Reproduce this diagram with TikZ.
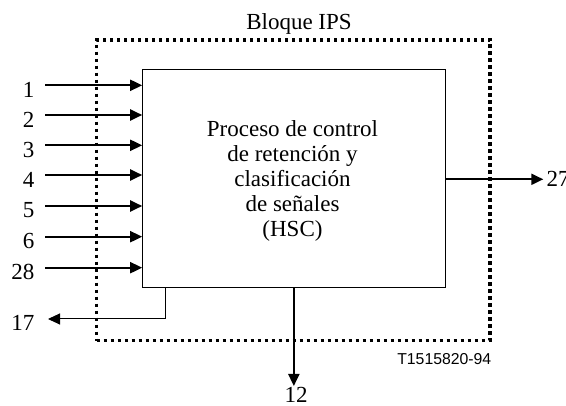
\documentclass[tikz,border=0pt]{standalone}
\usepackage{fontspec}
\setmainfont{Liberation Serif}
\setsansfont{Liberation Sans}
\usetikzlibrary{arrows.meta}
\tikzset{
  sig/.style={line width=2pt,-{Triangle[length=12pt,width=11pt]}},
  thinsig/.style={line width=1pt,-{Triangle[length=12pt,width=11pt]}},
  lbl/.style={font=\fontsize{23}{25}\selectfont,inner sep=0pt},
  ipsbox/.style={draw,line width=3.5pt,dash pattern=on 3.5pt off 3.5pt,inner sep=0pt},
}
\begin{document}
\begin{tikzpicture}[x=1pt,y=-1pt]
\useasboundingbox (0,0) rectangle (566,406);

% IPS block (dotted)
\node[ipsbox,minimum width=393.3,minimum height=300.7] (ips) at (293.35,190.35) {};
\node[lbl,anchor=base] (ipslbl) at (299,30) {Bloque IPS};

% HSC process
\node[draw,line width=1pt,minimum width=302.3,minimum height=218.4] (hsc) at (293.85,178.5) {};
\node[lbl,align=center] (hsctxt) at (292.5,181.2) {Proceso de control\\de retención y\\clasificación\\de señales\\(HSC)};

% Inputs
\coordinate (in1) at (45,85.3);
\coordinate (in2) at (45,115);
\coordinate (in3) at (45,145.3);
\coordinate (in4) at (45,175);
\coordinate (in5) at (45,206);
\coordinate (in6) at (45,236.7);
\coordinate (in28) at (45,267.7);
\node[lbl,anchor=east] (l1) at (34.5,89.8) {1};
\node[lbl,anchor=east] (l2) at (34.5,119.5) {2};
\node[lbl,anchor=east] (l3) at (34.5,149.8) {3};
\node[lbl,anchor=east] (l4) at (34.5,179.5) {4};
\node[lbl,anchor=east] (l5) at (34.5,210.5) {5};
\node[lbl,anchor=east] (l6) at (34.5,241.2) {6};
\node[lbl,anchor=east] (l28) at (34.5,272.2) {28};
\draw[sig] (in1) -- (in1 -| hsc.west);
\draw[sig] (in2) -- (in2 -| hsc.west);
\draw[sig] (in3) -- (in3 -| hsc.west);
\draw[sig] (in4) -- (in4 -| hsc.west);
\draw[sig] (in5) -- (in5 -| hsc.west);
\draw[sig] (in6) -- (in6 -| hsc.west);
\draw[sig] (in28) -- (in28 -| hsc.west);

% Output 17
\coordinate (o17a) at (165.7,287.7);
\coordinate (o17) at (48,319);
\node[lbl,anchor=east] (l17) at (34.5,323.3) {17};
\draw[thinsig] (o17a |- hsc.south) |- (o17);

% Output 12
\coordinate (o12) at (293.85,386);
\node[lbl,anchor=north] (l12) at (296,387.5) {12};
\draw[sig] (hsc.south) -- (o12);

% Output 27
\coordinate (o27) at (543.3,179.3);
\node[lbl,anchor=west] (l27) at (546.5,178.8) {27};
\draw[sig] (o27 -| hsc.east) -- (o27);

% Figure reference
\node[font=\sffamily\fontsize{15.8}{18}\selectfont,inner sep=0pt,anchor=base east] (ref) at (491.5,364.5) {T1515820-94};

\end{tikzpicture}
\end{document}
